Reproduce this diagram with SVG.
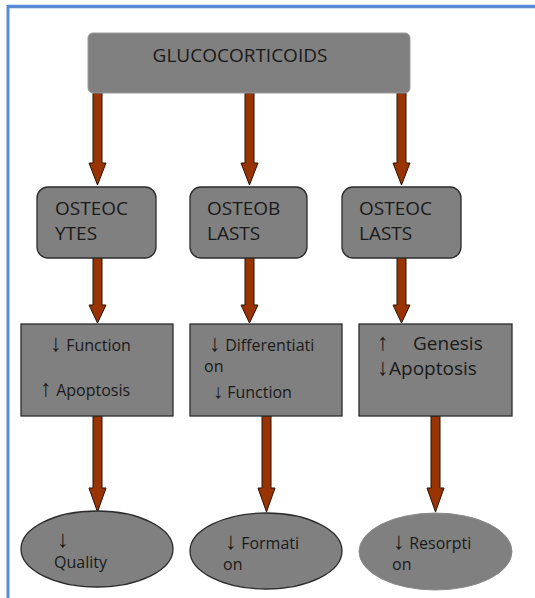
<svg xmlns="http://www.w3.org/2000/svg" width="535" height="598" viewBox="0 0 535 598">
<defs>
<style>
.box{fill:#808080;stroke:#2b2b2b;stroke-width:1.3}
.top{fill:#808080;stroke:#9a9a9a;stroke-width:1}
.arr{fill:#993300;stroke:#2a1005;stroke-width:1}
text{font-family:"Open Sans","DejaVu Sans",sans-serif;fill:#1a1a1a}
.t19{font-size:19px}
.t16{font-size:16px}
.t20{font-size:19px}
.ar{font-family:"Liberation Sans","DejaVu Sans",sans-serif;font-size:24px}
.ar2{font-family:"Liberation Sans","DejaVu Sans",sans-serif;font-size:20px}
</style>
</defs>
<rect x="0" y="0" width="535" height="598" fill="#ffffff"/>
<g id="frame">
<line x1="8" y1="6.5" x2="535" y2="6.5" stroke="#5b8bd5" stroke-width="3.5"/>
<line x1="8" y1="5" x2="8" y2="598" stroke="#5b8bd5" stroke-width="3"/>
</g>
<g id="connectors">
<path class="arr" d="M93,93 H102 V163 H106 L97.5,185 L89,163 H93 Z"/>
<path class="arr" d="M245,93 H254 V163 H258 L249.5,185 L241,163 H245 Z"/>
<path class="arr" d="M397,93 H406 V163 H410 L401.5,185 L393,163 H397 Z"/>
<path class="arr" d="M93,248 H102 V305 H106 L97.5,323 L89,305 H93 Z"/>
<path class="arr" d="M245,248 H254 V305 H258 L249.5,323 L241,305 H245 Z"/>
<path class="arr" d="M397,248 H406 V305 H410 L401.5,323 L393,305 H397 Z"/>
<path class="arr" d="M93,416 H102 V488 H106 L97.5,512 L89,488 H93 Z"/>
<path class="arr" d="M262,416 H271 V488 H275 L266.5,512 L258,488 H262 Z"/>
<path class="arr" d="M431,416 H440 V488 H444 L435.5,512 L427,488 H431 Z"/>
</g>
<g id="glucocorticoids">
<rect class="top" x="88" y="33" width="322" height="60" rx="5"/>
<text class="t19" x="240" y="62" text-anchor="middle">GLUCOCORTICOIDS</text>
</g>
<g id="osteocytes">
<rect class="box" x="37" y="187" width="119" height="71" rx="11"/>
<text class="t19" x="55" y="215">OSTEOC</text>
<text class="t19" x="55" y="240">YTES</text>
</g>
<g id="osteoblasts">
<rect class="box" x="190" y="187" width="117" height="71" rx="11"/>
<text class="t19" x="207" y="215">OSTEOB</text>
<text class="t19" x="207" y="240">LASTS</text>
</g>
<g id="osteoclasts">
<rect class="box" x="342" y="187" width="119" height="71" rx="11"/>
<text class="t19" x="359" y="215">OSTEOC</text>
<text class="t19" x="359" y="240">LASTS</text>
</g>
<g id="osteocytes-effects">
<rect class="box" x="21" y="324" width="152" height="92"/>
<text class="t16" x="50" y="351"><tspan class="ar">↓</tspan> Function</text>
<text class="t16" x="40" y="396"><tspan class="ar">↑</tspan> Apoptosis</text>
</g>
<g id="osteoblasts-effects">
<rect class="box" x="190" y="324" width="152" height="92"/>
<text class="t16" x="209" y="351"><tspan class="ar">↓</tspan> Differentiati</text>
<text class="t16" x="204" y="372">on</text>
<text class="t16" x="213" y="398"><tspan class="ar2">↓</tspan> Function</text>
</g>
<g id="osteoclasts-effects">
<rect class="box" x="359" y="324" width="153" height="92"/>
<text class="t20" x="377" y="350"><tspan class="ar">↑</tspan></text>
<text class="t20" x="413" y="350">Genesis</text>
<text class="t20" x="377" y="375"><tspan class="ar">↓</tspan>Apoptosis</text>
</g>
<g id="quality">
<ellipse class="box" cx="97" cy="549" rx="76" ry="38"/>
<text class="t16" x="57" y="547"><tspan class="ar">↓</tspan></text>
<text class="t16" x="54" y="568">Quality</text>
</g>
<g id="formation">
<ellipse class="box" cx="266" cy="551" rx="76" ry="38"/>
<text class="t16" x="225" y="549"><tspan class="ar">↓</tspan> Formati</text>
<text class="t16" x="223" y="570">on</text>
</g>
<g id="resorption">
<ellipse cx="435.5" cy="551.5" rx="76.5" ry="38.5" fill="#808080" stroke="#8a8a8a" stroke-width="1"/>
<text class="t16" x="393" y="549"><tspan class="ar">↓</tspan> Resorpti</text>
<text class="t16" x="392" y="570">on</text>
</g>
</svg>
